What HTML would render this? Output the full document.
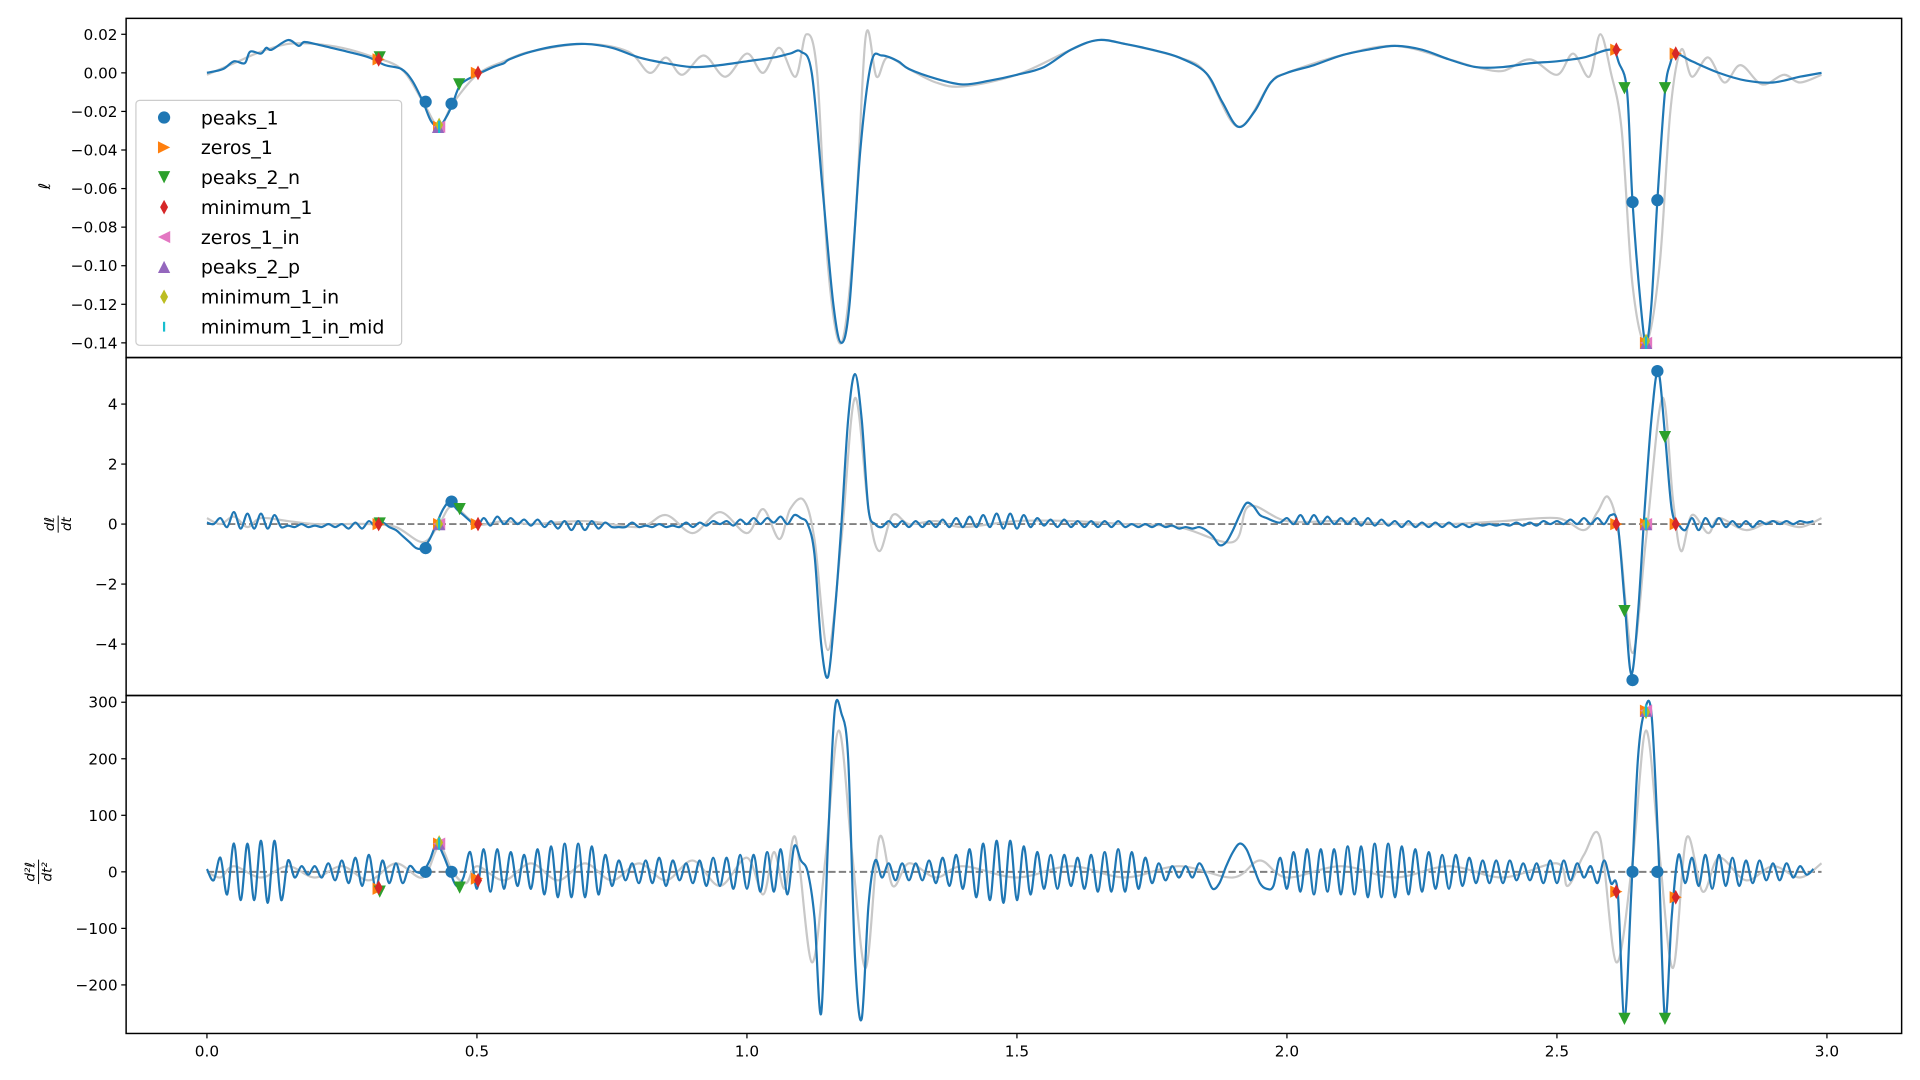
<!DOCTYPE html>
<html><head><meta charset="utf-8"><style>
html,body{margin:0;padding:0;background:#fff;}
svg{display:block;font-family:"DejaVu Sans","Liberation Sans",sans-serif;}
</style></head><body>
<svg id="chart" width="1920" height="1080" viewBox="0 0 1568 882" xmlns="http://www.w3.org/2000/svg"></svg>
<script>
// ---- data ----
const tStep = 0.0125;
const topBlueT = [0,0.03,0.05,0.07,0.08,0.1,0.11,0.12,0.15,0.17,0.18,0.2,0.23,0.26,0.3,0.33,0.36,0.38,0.40,0.415,0.43,0.445,0.455,0.47,0.5,0.53,0.55,0.56,0.6,0.65,0.7,0.75,0.8,0.85,0.9,0.95,1.0,1.05,1.08,1.1,1.12,1.14,1.16,1.175,1.19,1.21,1.23,1.25,1.28,1.3,1.35,1.4,1.45,1.5,1.55,1.6,1.65,1.7,1.75,1.8,1.85,1.88,1.91,1.94,1.97,2.0,2.05,2.1,2.15,2.2,2.25,2.3,2.35,2.4,2.45,2.5,2.55,2.6,2.615,2.63,2.64,2.655,2.665,2.675,2.686,2.7,2.71,2.72,2.75,2.8,2.85,2.9,2.95,2.99];
const topBlueV = [0,0.002,0.006,0.005,0.011,0.01,0.013,0.012,0.017,0.014,0.016,0.015,0.013,0.011,0.008,0.004,0.002,-0.004,-0.015,-0.025,-0.028,-0.022,-0.016,-0.006,-0.001,0.003,0.005,0.007,0.011,0.014,0.015,0.013,0.008,0.005,0.003,0.004,0.006,0.008,0.01,0.011,0.0,-0.06,-0.12,-0.14,-0.12,-0.04,0.005,0.009,0.006,0.002,-0.003,-0.006,-0.004,-0.001,0.003,0.012,0.017,0.015,0.012,0.008,0.0,-0.015,-0.028,-0.02,-0.005,0.0,0.004,0.009,0.012,0.014,0.012,0.007,0.003,0.003,0.005,0.006,0.008,0.012,0.005,-0.01,-0.067,-0.12,-0.14,-0.12,-0.066,-0.01,0.005,0.01,0.006,0.0,-0.004,-0.005,-0.002,0.0];
const topGrayT = [0,0.05,0.1,0.15,0.2,0.25,0.3,0.36,0.40,0.43,0.455,0.5,0.55,0.6,0.7,0.78,0.82,0.85,0.88,0.92,0.96,1.0,1.03,1.06,1.09,1.11,1.13,1.15,1.175,1.2,1.22,1.24,1.26,1.3,1.35,1.4,1.5,1.6,1.65,1.7,1.8,1.85,1.91,1.97,2.0,2.1,2.2,2.3,2.35,2.4,2.45,2.5,2.53,2.56,2.58,2.6,2.62,2.64,2.665,2.69,2.71,2.73,2.75,2.78,2.81,2.84,2.88,2.92,2.95,2.99];
const topGrayV = [-0.001,0.005,0.011,0.015,0.015,0.013,0.009,0.002,-0.015,-0.028,-0.016,-0.001,0.006,0.011,0.015,0.011,0.0,0.008,-0.001,0.009,-0.002,0.01,0.0,0.013,-0.002,0.02,0.0,-0.1,-0.14,-0.08,0.019,-0.002,0.008,0.002,-0.005,-0.007,-0.001,0.012,0.017,0.015,0.008,0.0,-0.028,-0.005,0.0,0.009,0.014,0.007,0.003,0.001,0.007,-0.001,0.01,-0.002,0.02,0.0,-0.03,-0.11,-0.14,-0.1,-0.02,0.012,-0.002,0.008,-0.005,0.004,-0.006,-0.001,-0.005,-0.001];
const midBlueV = [
0.05,0.0,0.2,-0.1,0.4,-0.15,0.35,-0.15,
0.35,-0.15,0.3,-0.1,-0.05,-0.1,0,-0.1,
-0.05,-0.1,0.0,-0.1,0.0,-0.15,0.05,-0.15,
0.1,-0.1,0.05,-0.1,-0.2,-0.4,-0.6,-0.8,
-0.8,-0.5,0,0.5,0.75,0.5,0.3,0.1,
-0.1,0.2,-0.05,0.25,0.0,0.2,0.0,0.15,
-0.05,0.15,-0.1,0.1,-0.15,0.1,-0.2,0.1,
-0.2,0.1,-0.15,0.05,-0.1,-0.1,-0.1,0.05,
-0.1,-0.05,-0.1,0.0,-0.1,-0.05,-0.1,0.05,
-0.1,0.05,-0.05,0.1,0.0,0.1,-0.05,0.15,
0.0,0.2,0.0,0.2,0.05,0.25,0.0,0.3,
0.2,0.0,-1.0,-4.0,-5.1,-3.0,0.0,3.5,
5.0,3.5,0.5,0.0,-0.1,0.1,-0.1,0.1,
-0.1,0.1,-0.1,0.1,-0.1,0.15,-0.1,0.2,
-0.1,0.25,-0.1,0.3,-0.1,0.35,-0.15,0.35,
-0.15,0.3,-0.1,0.2,-0.05,0.15,-0.1,0.15,
-0.1,0.1,-0.1,0.1,-0.1,0.1,-0.1,0.1,
-0.1,0.0,-0.1,0.0,-0.1,0.0,-0.1,-0.05,
-0.15,-0.1,-0.15,-0.1,-0.2,-0.4,-0.7,-0.6,
-0.2,0.3,0.7,0.6,0.3,0.2,0.1,0.05,
0.2,0.0,0.3,0.0,0.3,0.0,0.25,0.0,
0.2,0.0,0.2,-0.05,0.2,-0.05,0.15,-0.05,
0.1,-0.1,0.1,-0.1,0.05,-0.1,0.05,-0.1,
0.05,-0.1,0.0,-0.1,0.0,-0.05,0.0,-0.05,
0.0,-0.05,0.05,-0.05,0.05,-0.05,0.1,0.0,
0.1,0.0,0.15,0.0,0.2,0.0,0.2,0.0,
0.3,0.0,-2.5,-5.0,-3.0,0.5,3.5,5.1,
3.0,0.5,0.0,-0.2,0.2,-0.2,0.2,-0.1,
0.2,-0.1,0.1,-0.1,0.1,-0.1,0.1,0.0,
0.1,0.0,0.1,0.0,0.1,0.05,0.1];
const midGrayT = [0,0.025,0.05,0.075,0.1,0.15,0.2,0.25,0.3,0.35,0.4,0.43,0.455,0.5,0.55,0.6,0.7,0.8,0.85,0.9,0.95,1.0,1.03,1.06,1.08,1.105,1.125,1.15,1.175,1.2,1.225,1.245,1.27,1.3,1.35,1.4,1.5,1.6,1.7,1.8,1.9,1.93,2.0,2.1,2.2,2.3,2.4,2.5,2.55,2.575,2.595,2.615,2.64,2.665,2.695,2.715,2.73,2.75,2.78,2.8,2.85,2.9,2.95,2.99];
const midGrayV = [0.2,0.0,0.25,-0.1,0.2,0.1,0.0,0.0,0.0,-0.1,-0.6,0.0,0.6,0.0,0.1,0.0,0.1,-0.1,0.3,-0.3,0.4,-0.3,0.5,-0.5,0.5,0.8,-0.5,-4.2,-0.5,4.2,0.5,-0.9,0.3,0.0,0.1,-0.1,0.1,0.1,0.0,-0.1,-0.6,0.6,0.1,0.1,0.0,0.0,0.1,0.2,-0.2,0.4,0.9,-0.4,-4.3,-0.5,4.2,0.8,-0.9,0.3,-0.3,0.2,-0.2,0.1,-0.1,0.2];
const botBlueV = [
5,-15,25,-40,50,-50,50,-50,
55,-55,55,-50,20,-10,10,-5,
10,-10,15,-15,20,-20,25,-25,
30,-30,20,-20,15,-20,10,0,
0,20,50,30,0,-25,-10,35,
-30,40,-35,40,-30,35,-25,30,
-30,40,-40,45,-45,50,-45,50,
-45,45,-40,30,-25,20,-15,15,
-20,20,-20,25,-25,20,-15,15,
-20,20,-25,25,-25,25,-30,30,
-30,30,-35,35,-35,40,-40,45,
20,0,-80,-250,50,285,280,200,
-150,-260,-60,20,-10,15,-15,15,
-15,15,-15,20,-20,25,-25,30,
-30,40,-45,50,-50,55,-55,55,
-50,45,-40,35,-30,30,-30,30,
-25,25,-30,30,-35,35,-35,40,
-35,35,-30,25,-20,15,-15,10,
-10,10,-10,15,-5,-30,-20,10,
35,50,40,10,-20,-30,-25,25,
-30,35,-35,40,-40,40,-35,40,
-40,45,-40,45,-45,50,-45,50,
-45,45,-40,40,-35,35,-30,30,
-30,30,-25,25,-20,20,-20,20,
-20,20,-15,15,-15,15,-20,20,
-20,20,-15,15,-10,10,-20,20,
-20,-35,-260,-40,200,285,280,50,
-260,-80,30,-20,25,-25,30,-30,
30,-25,25,-25,20,-20,20,-15,
15,-15,15,-10,10,-5,5];
const botGrayT = [0,0.025,0.05,0.1,0.15,0.2,0.25,0.3,0.35,0.4,0.43,0.455,0.48,0.5,0.55,0.6,0.65,0.7,0.75,0.8,0.85,0.9,0.95,1.0,1.03,1.05,1.07,1.09,1.12,1.145,1.17,1.195,1.22,1.245,1.27,1.3,1.35,1.4,1.5,1.6,1.7,1.8,1.9,1.95,2.0,2.1,2.2,2.3,2.4,2.5,2.52,2.55,2.58,2.61,2.64,2.665,2.69,2.715,2.74,2.77,2.8,2.85,2.9,2.95,2.99];
const botGrayV = [0,-10,10,-10,10,-10,10,-15,15,-10,45,0,-20,10,-15,15,-15,15,-15,15,-15,20,-25,25,-40,35,-30,60,-160,20,250,30,-170,60,-25,15,-10,10,-10,10,-10,10,-10,20,-10,10,-10,10,-10,15,-25,30,60,-160,20,250,30,-170,60,-35,25,-15,10,-10,15];
// markers: [time, value, type]
const markerTypes = ["peaks_1","zeros_1","peaks_2_n","minimum_1","zeros_1_in","peaks_2_p","minimum_1_in","minimum_1_in_mid"];
const topMarkers = [[0.405,-0.015,0],[0.453,-0.016,0],[2.64,-0.067,0],[2.686,-0.066,0],
 [0.318,0.007,1],[0.43,-0.028,1],[0.5,0.0,1],[2.61,0.012,1],[2.665,-0.14,1],[2.72,0.01,1],
 [0.32,0.008,2],[0.467,-0.006,2],[2.625,-0.008,2],[2.7,-0.008,2],
 [0.318,0.007,3],[0.502,0.0,3],[2.61,0.012,3],[2.72,0.01,3],
 [0.43,-0.028,4],[2.665,-0.14,4],[0.428,-0.028,5],[2.665,-0.14,5],
 [0.43,-0.027,6],[2.665,-0.139,6],[0.43,-0.028,7],[2.665,-0.14,7]];
const midMarkers = [[0.405,-0.8,0],[0.453,0.75,0],[2.64,-5.2,0],[2.686,5.1,0],
 [0.318,0,1],[0.43,0,1],[0.5,0,1],[2.61,0,1],[2.665,0,1],[2.72,0,1],
 [0.32,0.02,2],[0.468,0.5,2],[2.625,-2.9,2],[2.7,2.9,2],
 [0.318,0,3],[0.502,0,3],[2.61,0,3],[2.72,0,3],
 [0.43,0,4],[2.665,0,4],[0.43,0,5],[2.665,0,5],[0.43,0,6],[2.665,0,6],[0.43,0,7],[2.665,0,7]];
const botMarkers = [[0.405,0,0],[0.453,0,0],[2.64,0,0],[2.686,0,0],
 [0.318,-30,1],[0.5,-12,1],[2.61,-35,1],[2.72,-45,1],[0.43,50,1],[2.665,285,1],
 [0.32,-35,2],[0.468,-28,2],[2.625,-260,2],[2.7,-260,2],
 [0.318,-28,3],[0.502,-15,3],[2.61,-35,3],[2.72,-45,3],
 [0.43,50,4],[2.665,285,4],[0.43,50,5],[2.665,285,5],[0.43,52,6],[2.665,283,6],[0.43,50,7],[2.665,285,7]];
const xTicks = [0,0.5,1.0,1.5,2.0,2.5,3.0];
const xTickLabels = ["0.0","0.5","1.0","1.5","2.0","2.5","3.0"];
const topTicks = [0.02,0,-0.02,-0.04,-0.06,-0.08,-0.10,-0.12,-0.14];
const topTickLabels = ["0.02","0.00","\u22120.02","\u22120.04","\u22120.06","\u22120.08","\u22120.10","\u22120.12","\u22120.14"];
const midTicks = [4,2,0,-2,-4];
const midTickLabels = ["4","2","0","\u22122","\u22124"];
const botTicks = [300,200,100,0,-100,-200];
const botTickLabels = ["300","200","100","0","\u2212100","\u2212200"];

// ---- drawing ----
const svg = document.getElementById('chart');
const NS = 'http://www.w3.org/2000/svg';
function mk(tag, attrs, parent){const e=document.createElementNS(NS,tag);for(const k in attrs)e.setAttribute(k,attrs[k]);(parent||svg).appendChild(e);return e;}
const L=103,R=1553;
const xs = t => 169 + t*441;
const panels = [
 {name:'top-panel',y0:15,y1:292,ys:v=>59.5 - v/0.02*31.5,ticks:topTicks,labels:topTickLabels},
 {name:'middle-panel',y0:292,y1:568,ys:v=>428 - v*24.5,ticks:midTicks,labels:midTickLabels},
 {name:'bottom-panel',y0:568,y1:844,ys:v=>712 - v*0.4617,ticks:botTicks,labels:botTickLabels}];
function smoothPath(pts){
 let d='M'+pts[0][0].toFixed(2)+','+pts[0][1].toFixed(2);
 for(let i=0;i<pts.length-1;i++){
  const p0=pts[Math.max(0,i-1)],p1=pts[i],p2=pts[i+1],p3=pts[Math.min(pts.length-1,i+2)];
  const c1x=p1[0]+(p2[0]-p0[0])/6,c1y=p1[1]+(p2[1]-p0[1])/6;
  const c2x=p2[0]-(p3[0]-p1[0])/6,c2y=p2[1]-(p3[1]-p1[1])/6;
  d+=` C${c1x.toFixed(2)},${c1y.toFixed(2)} ${c2x.toFixed(2)},${c2y.toFixed(2)} ${p2[0].toFixed(2)},${p2[1].toFixed(2)}`;
 }
 return d;
}
function ptsTV(T,V,ys){return T.map((t,i)=>[xs(t),ys(V[i])]);}
function ptsStep(V,ys){return V.map((v,i)=>[xs(Math.min(i*tStep,2.99)),ys(v)]);}
const colors=['#1f77b4','#ff7f0e','#2ca02c','#d62728','#e377c2','#9467bd','#bcbd22','#17becf'];
function marker(g,x,y,type,sz){
 const c=colors[type];const s=sz||5;let e;
 if(type===0) e=mk('circle',{cx:x,cy:y,r:s,fill:c},g);
 else if(type===1) e=mk('polygon',{points:`${x-s},${y-s} ${x+s},${y} ${x-s},${y+s}`,fill:c},g);
 else if(type===2) e=mk('polygon',{points:`${x-s},${y-s} ${x+s},${y-s} ${x},${y+s}`,fill:c},g);
 else if(type===3||type===6) e=mk('polygon',{points:`${x},${y-s*1.2} ${x+s*0.65},${y} ${x},${y+s*1.2} ${x-s*0.65},${y}`,fill:c},g);
 else if(type===4) e=mk('polygon',{points:`${x+s},${y-s} ${x-s},${y} ${x+s},${y+s}`,fill:c},g);
 else if(type===5) e=mk('polygon',{points:`${x-s},${y+s} ${x+s},${y+s} ${x},${y-s}`,fill:c},g);
 else e=mk('line',{x1:x,x2:x,y1:y-s,y2:y+s,stroke:c,'stroke-width':1.8},g);
 return e;
}
const series=[[topGrayT,topGrayV,topBlueT,topBlueV,topMarkers],[midGrayT,midGrayV,null,midBlueV,midMarkers],[botGrayT,botGrayV,null,botBlueV,botMarkers]];
panels.forEach((p,pi)=>{
 const g=mk('g',{});
 
 
 mk('clipPath',{id:'clip'+pi},g);
 mk('rect',{x:L,y:p.y0,width:R-L,height:p.y1-p.y0},g.lastChild);
 const s=series[pi];
 if(pi>0){const z=mk('line',{x1:xs(0),x2:xs(2.99),y1:p.ys(0),y2:p.ys(0),stroke:'#808080','stroke-width':1.6,'stroke-dasharray':'6,2.6'},g);
  
  }
 const gp=mk('path',{d:smoothPath(ptsTV(s[0],s[1],p.ys)),fill:'none',stroke:'#c8c8c8','stroke-width':1.8,'clip-path':`url(#clip${pi})`},g);
 
 
 const bp=mk('path',{d:smoothPath(pi===0?ptsTV(s[2],s[3],p.ys):ptsStep(s[3],p.ys)),fill:'none',stroke:'#1f77b4','stroke-width':1.8,'clip-path':`url(#clip${pi})`},g);
 
 
 s[4].forEach(m=>{const e=marker(g,xs(m[0]),p.ys(m[1]),m[2]);
  
  });
 const fr=mk('rect',{x:L,y:p.y0,width:R-L,height:p.y1-p.y0,fill:'none',stroke:'#000','stroke-width':1.2},g);
 
 
 p.ticks.forEach((v,i)=>{const y=p.ys(v);
  mk('line',{x1:L-4,x2:L,y1:y,y2:y,stroke:'#000','stroke-width':1},g);
  const t=mk('text',{x:L-7,y:y+4.5,'text-anchor':'end','font-size':12.5,fill:'#000'},g);t.textContent=p.labels[i];
  
  });
});
xTicks.forEach((v,i)=>{const x=xs(v);
 mk('line',{x1:x,x2:x,y1:844,y2:848,stroke:'#000','stroke-width':1});
 const t=mk('text',{x:x,y:863,'text-anchor':'middle','font-size':12.5,fill:'#000'});t.textContent=xTickLabels[i];
 
 });
// y-axis titles
function ytitle(x,y,html,name){const t=mk('text',{x:0,y:0,transform:`translate(${x},${y}) rotate(-90)`,'text-anchor':'middle','font-size':13,'font-style':'italic',fill:'#000'});t.innerHTML=html;
 
 }
ytitle(41,152,'ℓ','top-y-axis-title');
ytitle(47,428,'<tspan x="0" dy="-3" font-size="11">dℓ</tspan><tspan x="0" dy="14" font-size="11">dt</tspan>','middle-y-axis-title');
mk('line',{x1:47.5,x2:47.5,y1:421,y2:435,stroke:'#000','stroke-width':0.8});
ytitle(31,712,'<tspan x="0" dy="-3" font-size="11">d²ℓ</tspan><tspan x="0" dy="14" font-size="11">dt²</tspan>','bottom-y-axis-title');
mk('line',{x1:31.5,x2:31.5,y1:702,y2:722,stroke:'#000','stroke-width':0.8});
// legend
const lg=mk('g',{});


mk('rect',{x:111,y:82,width:217,height:200,rx:3,fill:'#fff','fill-opacity':0.85,stroke:'#ccc','stroke-width':1},lg);
markerTypes.forEach((n,i)=>{const y=96+i*24.4;
 const e=mk('g',{},lg);
 
 
 marker(e,134,y,i,i===7?4:5);
 const t=mk('text',{x:164,y:y+5.5,'font-size':15.5,fill:'#000'},e);t.textContent=n;});
</script>
</body></html>
